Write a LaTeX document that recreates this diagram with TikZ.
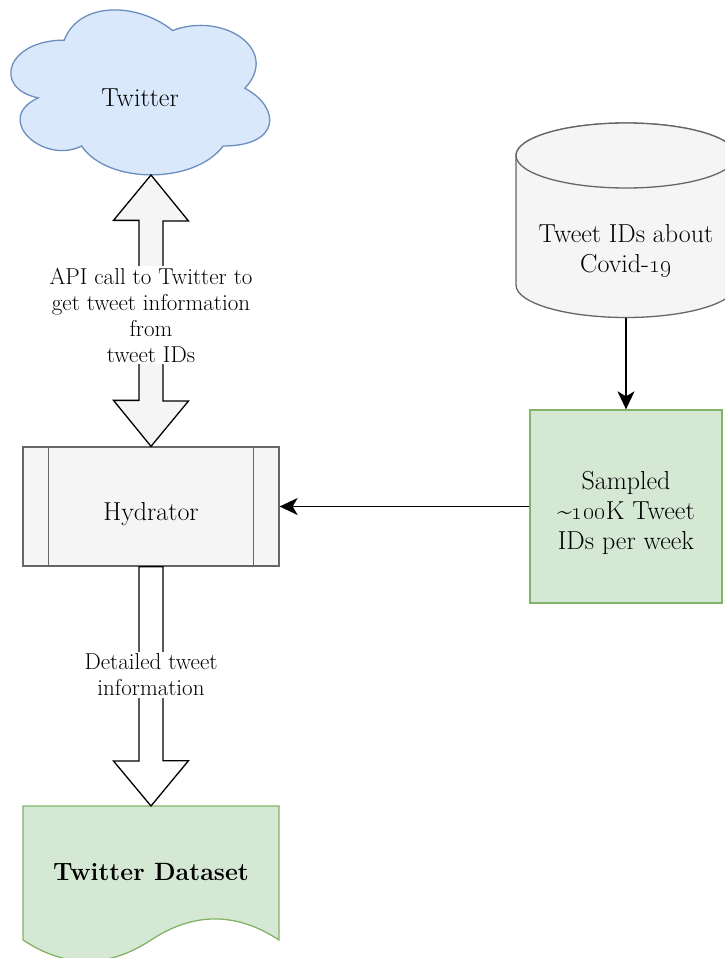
\documentclass[tikz,border=0pt]{standalone}
\usepackage{amsmath}
\usetikzlibrary{arrows.meta}
\definecolor{bluefill}{HTML}{DAE8FC}
\definecolor{blueline}{HTML}{6C8EBF}
\definecolor{greenfill}{HTML}{D5E8D4}
\definecolor{greenline}{HTML}{82B366}
\definecolor{greyfill}{HTML}{F5F5F5}
\definecolor{greyline}{HTML}{666666}

\begin{document}
\begin{tikzpicture}[x = 1pt, y = -1pt, line width = 1.3pt]
    \tikzstyle{every node} = [font = \fontsize{26}{30}\selectfont, align = center, inner sep = 0pt];
    \tikzstyle{greybox} = [draw = greyline, fill = greyfill];
    \tikzstyle{greenbox} = [draw = greenline, fill = greenfill];
    \tikzstyle{blockarrow} = [draw = black, line join = miter];
    \tikzstyle{edgelabel} = [fill = white, inner sep = 2pt, font = \fontsize{23}{26}\selectfont];
    \tikzstyle{link} = [line width = 1.5pt, -{Stealth[length = 18pt, width = 17pt, inset = 5pt]}];
    \useasboundingbox (0,0) rectangle (725,958);
    % cloud:
    \begin{scope}[shift = {(-8,-8)}, x = 289pt, y = -192.5pt]
      \draw[draw = blueline, fill = bluefill] (.25,.25)
        .. controls (.05,.25) and (0,.5) .. (.16,.55)
        .. controls (0,.66) and (.18,.9) .. (.31,.8)
        .. controls (.4,1) and (.7,1) .. (.8,.8)
        .. controls (1,.8) and (1,.6) .. (.875,.5)
        .. controls (1,.3) and (.8,.1) .. (.625,.2)
        .. controls (.5,.05) and (.3,.05) .. cycle;
    \end{scope}
    \node (tw) at (140,98) {Twitter};
    \coordinate (cb) at (151,175);
    % database:
    \draw[greybox] (516,155.5) -- (516,285) arc[start angle = 180, end angle = 0, x radius = 110, y radius = 32.5]
      -- (736,155.5) arc[start angle = 0, end angle = -180, x radius = 110, y radius = 32.5] -- cycle;
    \draw[greybox] (626,155.5) ellipse [x radius = 110, y radius = 32.5];
    \node (db) at (626,251) {Tweet IDs about\\Covid-\oldstylenums{19}};
    \coordinate (dbs) at (626,317.5);
    % boxes:
    \node[greybox, minimum width = 256pt, minimum height = 119pt, text height = 34pt, text depth = 5.5pt]
      (hyd) at (151,506.5) {Hydrator};
    \draw[greyline] ([xshift = 26pt]hyd.north west) -- ([xshift = 26pt]hyd.south west);
    \draw[greyline] ([xshift = -26pt]hyd.north east) -- ([xshift = -26pt]hyd.south east);
    \node[greenbox, minimum width = 192pt, minimum height = 193pt, text height = 92pt, text depth = 5.5pt]
      (samp) at (626,506.5) {Sampled\\\textasciitilde\oldstylenums{100}K Tweet\\IDs per week};
    % document:
    \draw[greenbox] (23,806) -- (279,806) -- (279,940)
      .. controls (236.3,911.9) and (193.7,911.9) .. (151,940)
      .. controls (108.3,968.2) and (65.7,968.2) .. (23,940) -- cycle;
    \node[font = \fontsize{25}{30}\selectfont\bfseries] (ds) at (151,872) {Twitter Dataset};
    \coordinate (dtop) at (151,806);
    % block arrows:
    \draw[blockarrow, fill = greyfill] (cb) -- ++(37.5,46) -- ++(-25.5,0) -- ++(0,180) -- ++(25.5,0)
      -- (hyd.north) -- ++(-37.5,-46) -- ++(25.5,0) -- ++(0,-180) -- ++(-25.5,0) -- cycle;
    \node[edgelabel] (api) at (151,315)
      {API call to Twitter to\\get tweet information\\from\\tweet IDs};
    \draw[blockarrow, fill = white] (hyd.south) ++(-12,0) -- ++(24,0) -- ++(0,194) -- ++(25.5,0)
      -- (dtop) -- ++(-37.5,-45) -- ++(25.5,0) -- cycle;
    \node[edgelabel] (det) at (151,675) {Detailed tweet\\information};
    % links:
    \draw[link] (dbs) -- (samp.north);
    \draw[link] (samp) -- (hyd);
\end{tikzpicture}
\end{document}
